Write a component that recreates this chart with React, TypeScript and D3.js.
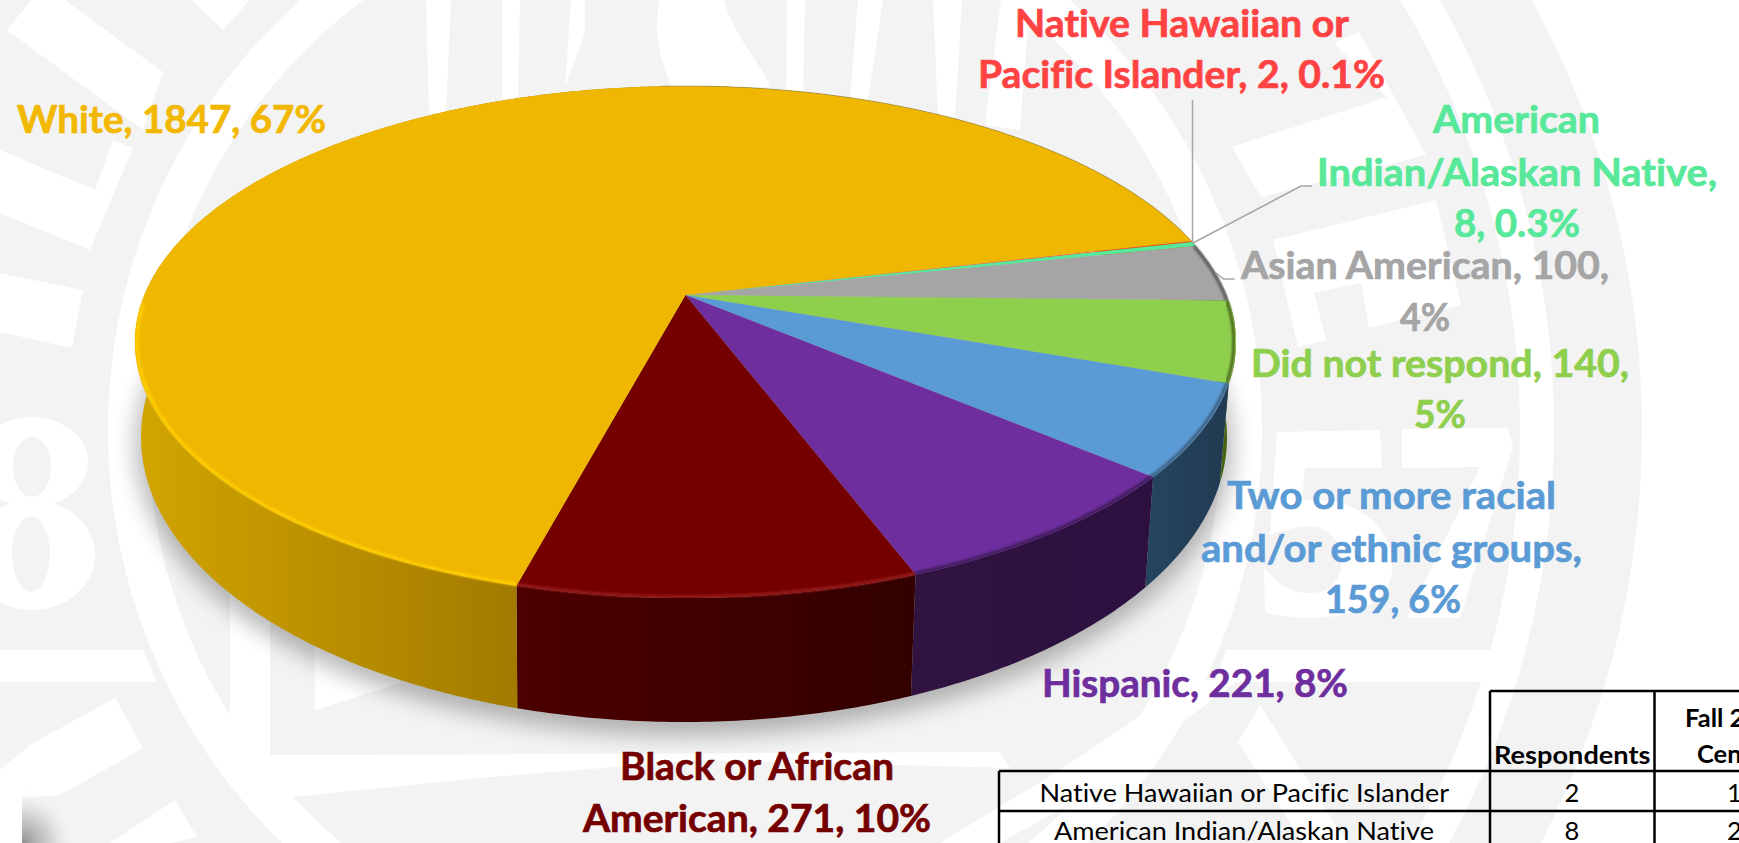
import React from "react";
import * as d3 from "d3";

const categories = [
  "Native Hawaiian or Pacific Islander",
  "American Indian/Alaskan Native",
  "Asian American",
  "Did not respond",
  "Two or more racial and/or ethnic groups",
  "Hispanic",
  "Black or African American",
  "White",
];
const respondents = [2, 8, 100, 140, 159, 221, 271, 1847];
const topColors = ["#FF4343", "#57E89A", "#A5A5A5", "#8FCF4E", "#5B9BD5", "#6E2E9E", "#750000", "#F0B700"];
const labelColors = ["#FF4343", "#57E89A", "#A5A5A5", "#8FCF4E", "#5B9BD5", "#6E2E9E", "#750000", "#F2B800"];
const wallLeft = ["#7a2020", "#2c7a50", "#555555", "#5a7d1c", "#25455f", "#30133f", "#4c0000", "#D2A500"];
const wallRight = ["#7a2020", "#2c7a50", "#555555", "#46650f", "#213b52", "#2c1040", "#330000", "#A27A00"];
const rimColors = ["none", "none", "#5c5c5c", "#49651f", "#3c5f7e", "#3d1a58", "#951f1f", "#FFCF00"];

const labelLines = [
  ["Native Hawaiian or", "Pacific Islander, 2, 0.1%"],
  ["American", "Indian/Alaskan Native,", "8, 0.3%"],
  ["Asian American, 100,", "4%"],
  ["Did not respond, 140,", "5%"],
  ["Two or more racial", "and/or ethnic groups,", "159, 6%"],
  ["Hispanic, 221, 8%"],
  ["Black or African", "American, 271, 10%"],
  ["White, 1847, 67%"],
];
// [x start, x end, baseline] per line
const labelBoxes = [
  [[1015, 1349, 37], [978, 1385, 88]],
  [[1433, 1600, 133], [1317, 1717, 186], [1454, 1580, 237]],
  [[1241, 1609, 279], [1400, 1450, 331]],
  [[1251, 1629, 377], [1414, 1466, 428]],
  [[1227, 1556, 509], [1201, 1582, 562], [1325, 1461, 613]],
  [[1042, 1348, 697]],
  [[620, 894, 780], [583, 931, 832]],
  [[17, 326, 133]],
];

const tableRows = [
  { name: categories[0], value: respondents[0], census: "1" },
  { name: categories[1], value: respondents[1], census: "2" },
];

const FONT = "Lato, 'Open Sans', sans-serif";
const W = 1739;
const H = 843;
const top = { cx: 685.5, cy: 342, rx: 550.5, ry: 256 };
const low = { cx: 684, cy: 437, rx: 543, ry: 285 };
const K = -0.1836;
const startDeg = 76.85;

function project(a: number, e: typeof top) {
  const phi = a - Math.PI / 2;
  const c = Math.cos(phi);
  const s = Math.sin(phi);
  const d = 1 + K * s;
  const y = (s + K) / d;
  const x = (c * Math.sqrt(1 - K * K)) / d;
  return [e.cx + e.rx * x, e.cy + e.ry * y] as [number, number];
}
const apex: [number, number] = [top.cx, top.cy + top.ry * K];
const line = d3.line();

function samples(a0: number, a1: number) {
  const n = Math.max(2, Math.ceil(Math.abs(a1 - a0) / 0.01));
  return d3.range(n + 1).map((i) => a0 + ((a1 - a0) * i) / n);
}

const pieGen = d3
  .pie<number>()
  .sort(null)
  .startAngle((startDeg * Math.PI) / 180)
  .endAngle((startDeg * Math.PI) / 180 + 2 * Math.PI);
const arcs = pieGen(respondents);

// hand-traced watermark pieces (white on the pale seal)
const whiteShapes = [
  "M31,0 L7,30 L143,130 L163,72 L65,0Z",
  "M192,0 L223,30 L250,0Z",
  "M0,150 L95,190 L113,140 L133,148 L90,250 L0,213Z",
  "M0,273 L83,290 L72,348 L0,332Z",
  "M426,0 L451,0 L446,113 L429,113Z",
  "M502,0 L520,0 L518,97 L502,100Z",
  "M571,0 L585,0 L585,33 L565,87Z",
  "M660,0 L724,0 C735,40 760,60 770,87 L672,87 C655,50 655,20 660,0Z",
  "M787,0 L805,0 L803,97 L786,97Z",
  "M858,0 L883,0 L868,100 L850,100Z",
  "M933,0 L962,0 L955,117 L938,115Z",
  "M1001,0 L1030,0 L1020,130 L985,125Z",
  "M0,650 L143,650 L157,682 L0,682Z",
  "M0,770 L30,745 L115,698 L143,748 L60,795 L0,800Z",
  "M175,800 L197,837 L170,843 L110,843Z",
  "M230,590 L270,590 L270,755 L345,755 L1000,752 L1010,768 L700,760 L480,778 L263,800 L230,757Z",
  "M315,640 L400,660 L400,683 L315,710Z",
  // upper-right letters
  "M1334,43 L1359,32 L1426,155 L1261,197 L1232,147 L1387,97Z",
  "M1273,240 L1436,200 L1461,305 L1369,328 L1361,283 L1314,293 L1326,340 L1298,347Z",
  // digits 5 and 7
  "M1277,432 L1380,430 L1382,468 L1305,468 L1302,500 C1360,495 1395,530 1392,570 C1390,605 1350,618 1310,618 C1290,618 1275,615 1265,612 L1264,566 C1280,590 1300,596 1320,592 C1345,587 1350,545 1325,530 C1310,522 1285,530 1270,535Z",
  "M1402,429 L1508,428 L1513,447 L1460,618 L1407,618 L1480,467 L1402,468Z",
  // band under the digits, lower fan
  "M1226,650 L1495,650 L1487,682 L1215,682Z",
  "M1238,742 L1260,705 L1347,843 L1303,843Z",
  "M1193,680 L1238,680 L1094,790 L1000,843 L940,843 L1060,770Z",
];

export default function App() {
  return (
    <svg
      width={W}
      height={H}
      viewBox={`0 0 ${W} ${H}`}
      style={{ position: "absolute", left: 0, top: 0, display: "block", background: "#fff" }}
    >
      <defs>
        <filter id="pieShadow" x="-10%" y="-10%" width="120%" height="130%">
          <feGaussianBlur stdDeviation="11" />
        </filter>
        <filter id="rimBlur" x="-5%" y="-5%" width="110%" height="110%">
          <feGaussianBlur stdDeviation="1.1" />
        </filter>
        <radialGradient id="cornerShade" gradientUnits="userSpaceOnUse" cx={22} cy={843} r={56}>
          <stop offset="0" stopColor="#8f8f8f" />
          <stop offset="0.5" stopColor="#c6c6c6" stopOpacity="0.75" />
          <stop offset="1" stopColor="#ffffff" stopOpacity="0" />
        </radialGradient>
        {arcs.map((d, i) => {
          const p0 = project(d.startAngle, low);
          const p1 = project(d.endAngle, low);
          const leftX = i === arcs.length - 1 ? top.cx - top.rx : Math.min(p0[0], p1[0]);
          const rightX = i === arcs.length - 1 ? p0[0] : Math.max(p0[0], p1[0]);
          return (
            <linearGradient key={i} id={`wall${i}`} gradientUnits="userSpaceOnUse" x1={leftX} x2={rightX} y1={0} y2={0}>
              <stop offset="0" stopColor={wallLeft[i]} />
              <stop offset="1" stopColor={wallRight[i]} />
            </linearGradient>
          );
        })}
      </defs>

      {/* seal watermark */}
      <g>
        <ellipse cx={685} cy={430} rx={957} ry={923} fill="#f3f3f3" />
        <ellipse cx={685} cy={430} rx={852} ry={850} fill="none" stroke="#ffffff" strokeWidth={34} />
        <ellipse cx={685} cy={430} rx={557} ry={557} fill="none" stroke="#ffffff" strokeWidth={40} />
        {whiteShapes.map((s, i) => (
          <path key={i} d={s} fill="#ffffff" />
        ))}
        {/* digit 8 cut by the left edge */}
        <ellipse cx={32} cy={462} rx={56} ry={45} fill="#ffffff" />
        <ellipse cx={32} cy={555} rx={63} ry={55} fill="#ffffff" />
        <ellipse cx={32} cy={467} rx={19} ry={30} fill="#f3f3f3" />
        <ellipse cx={31} cy={554} rx={19} ry={38} fill="#f3f3f3" />
      </g>

      {/* corner shade */}
      <rect x={22} y={780} width={60} height={63} fill="url(#cornerShade)" />
      <rect x={0} y={792} width={22} height={51} fill="#ffffff" />

      {/* cast shadow */}
      <ellipse cx={low.cx} cy={low.cy + 8} rx={low.rx + 6} ry={low.ry + 6} fill="#000" opacity={0.27} filter="url(#pieShadow)" />

      {/* side walls */}
      {arcs.map((d, i) => {
        const as = samples(d.startAngle, d.endAngle);
        const pts = [...as.map((a) => project(a, top)), ...as.slice().reverse().map((a) => project(a, low))];
        return <path key={i} d={(line(pts) as string) + "Z"} fill={`url(#wall${i})`} />;
      })}

      {/* top surface */}
      {arcs.map((d, i) => {
        const as = samples(d.startAngle, d.endAngle);
        const pts = [apex, ...as.map((a) => project(a, top))];
        return <path key={i} d={(line(pts) as string) + "Z"} fill={topColors[i]} />;
      })}

      {/* rim highlight on the front edge */}
      {arcs.map((d, i) => {
        if (rimColors[i] === "none") return null;
        const lim = (268 * Math.PI) / 180;
        const a1 = Math.min(d.endAngle, lim);
        const pts = samples(d.startAngle, a1).map((a) => project(a, top));
        const inner = pts.map(([x, y]) => [x + (apex[0] - x) * 0.004, y + (apex[1] - y) * 0.004] as [number, number]);
        return (
          <path key={i} d={line(inner) as string} fill="none" stroke={rimColors[i]} strokeWidth={3} filter="url(#rimBlur)" />
        );
      })}

      {/* back edge outline */}
      <path
        d={line(samples(arcs[7].startAngle + Math.PI * 0.9, arcs[7].endAngle + 0.02).map((a) => project(a, top))) as string}
        fill="none"
        stroke="#7a7350"
        strokeWidth={0.8}
        opacity={0.6}
      />

      {/* leader lines */}
      <g fill="none" stroke="#A6A6A6" strokeWidth={1.5}>
        <path d={line([[1192.5, 100], [1192.5, 243]]) as string} />
        <path d={line([[1193, 243], [1301, 186], [1312, 186]]) as string} />
        <path d={line([[1216, 273], [1223.5, 279], [1234.5, 279]]) as string} />
      </g>

      {/* data labels */}
      <g fontFamily={FONT} fontWeight={700} fontSize={38.5} style={{ fontVariantLigatures: "none" }}>
        {labelLines.map((lines, i) =>
          lines.map((t, j) => {
            const [x0, x1, y] = labelBoxes[i][j];
            return (
              <text
                key={`${i}-${j}`}
                x={x0}
                y={y}
                fill={labelColors[i]}
                stroke={labelColors[i]}
                strokeWidth={0.7}
                textLength={x1 - x0}
                lengthAdjust="spacingAndGlyphs"
              >
                {t}
              </text>
            );
          })
        )}
      </g>

      {/* side table, cut by the page edge */}
      <g fontFamily={FONT} fill="#000" fontSize={25.5} style={{ fontVariantLigatures: "none" }}>
        <text x={1494} y={764} fontWeight={700} textLength={156.5} lengthAdjust="spacingAndGlyphs">Respondents</text>
        <text x={1685} y={727} fontWeight={700}>Fall 2</text>
        <text x={1697} y={763} fontWeight={700}>Cen</text>
        <text x={1039.5} y={802} textLength={409.5} lengthAdjust="spacingAndGlyphs">{tableRows[0].name}</text>
        <text x={1054} y={840} textLength={380} lengthAdjust="spacingAndGlyphs">{tableRows[1].name}</text>
        {tableRows.map((r, i) => (
          <React.Fragment key={i}>
            <text x={1572} y={802 + i * 38} textAnchor="middle">{r.value}</text>
            <text x={1727} y={802 + i * 38}>{r.census}</text>
          </React.Fragment>
        ))}
      </g>
      <g stroke="#000" strokeWidth={2.5} fill="none">
        <path d="M1490,691 H1739" />
        <path d="M999,771 H1739" />
        <path d="M999,811 H1739" />
        <path d="M999,771 V843" />
        <path d="M1490,691 V843" />
        <path d="M1654.5,691 V843" />
      </g>
    </svg>
  );
}
